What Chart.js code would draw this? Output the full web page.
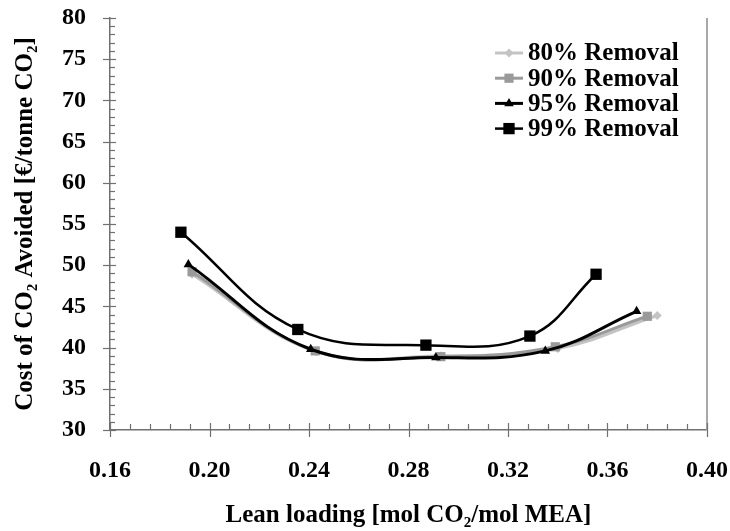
<!DOCTYPE html>
<html>
<head>
<meta charset="utf-8">
<script src="https://cdn.jsdelivr.net/npm/chart.js@4.4.1/dist/chart.umd.min.js"></script>
<style>
  html, body { margin: 0; padding: 0; background: #ffffff; }
  canvas { display: block; }
</style>
</head>
<body>
<canvas id="chart" width="730" height="531"></canvas>
<script>
// ---- data ----
const seriesNames = ['80% Removal', '90% Removal', '95% Removal', '99% Removal'];
const leanLoading80 = [0.193, 0.243, 0.293, 0.340, 0.380];
const cost80        = [48.9, 39.5, 39.0, 39.9, 43.9];
const leanLoading90 = [0.193, 0.2425, 0.293, 0.339, 0.376];
const cost90        = [49.2, 39.6, 38.9, 40.1, 43.8];
const leanLoading95 = [0.1915, 0.2407, 0.291, 0.335, 0.3717];
const cost95        = [50.1, 39.8, 38.8, 39.6, 44.4];
const leanLoading99 = [0.1885, 0.2355, 0.287, 0.3288, 0.3554];
const cost99        = [54.0, 42.2, 40.3, 41.4, 48.9];

const xTickValues = [0.16, 0.20, 0.24, 0.28, 0.32, 0.36, 0.40];
const xTickLabels = ['0.16', '0.20', '0.24', '0.28', '0.32', '0.36', '0.40'];
const yTickValues = [30, 35, 40, 45, 50, 55, 60, 65, 70, 75, 80];
const yTickLabels = ['30', '35', '40', '45', '50', '55', '60', '65', '70', '75', '80'];

const xTitle = 'Lean loading [mol CO\u2082/mol MEA]';
const yTitle = 'Cost of CO\u2082 Avoided [\u20AC/tonne CO\u2082]';

function pairs(xs, ys) { return xs.map((x, i) => ({ x: x, y: ys[i] })); }

const FONT = "'Liberation Serif', 'Times New Roman', serif";
const AXIS_COLOR = '#707070';

const datasets = [
  { label: seriesNames[0], data: pairs(leanLoading80, cost80), borderColor: '#c4c4c4', backgroundColor: '#c4c4c4',
    borderWidth: 3, pointStyle: 'rectRot', pointRadius: 4.5, order: 4 },
  { label: seriesNames[1], data: pairs(leanLoading90, cost90), borderColor: '#9a9a9a', backgroundColor: '#9a9a9a',
    borderWidth: 3, pointStyle: 'rect', pointRadius: 6.5, order: 3 },
  { label: seriesNames[2], data: pairs(leanLoading95, cost95), borderColor: '#000000', backgroundColor: '#000000',
    borderWidth: 3, pointStyle: 'triangle', pointRadius: 5.5, order: 2 },
  { label: seriesNames[3], data: pairs(leanLoading99, cost99), borderColor: '#000000', backgroundColor: '#000000',
    borderWidth: 2.5, pointStyle: 'rect', pointRadius: 8, order: 1 }
];
datasets.forEach(d => { d.showLine = true; d.tension = 0.4; d.pointBorderWidth = 0; d.pointHoverRadius = d.pointRadius; });

// custom tick marks + right border + legend, all positioned through the chart's scales
const decorations = {
  id: 'decorations',
  afterDraw(chart) {
    const ctx = chart.ctx;
    const xs = chart.scales.x, ys = chart.scales.y;
    const area = chart.chartArea;
    ctx.save();
    // right border
    ctx.strokeStyle = '#a8a8a8';
    ctx.lineWidth = 2;
    ctx.beginPath();
    ctx.moveTo(area.right, area.top);
    ctx.lineTo(area.right, area.bottom);
    ctx.stroke();

    ctx.strokeStyle = AXIS_COLOR;
    ctx.lineWidth = 1.2;
    // y ticks
    const yAxisX = area.left;
    for (let v = ys.min; v <= ys.max + 1e-9; v += 1) {
      const py = Math.round(ys.getPixelForValue(v)) + 0.5;
      ctx.beginPath();
      if (Math.abs(v % 5) < 1e-9) {
        ctx.moveTo(yAxisX - 7, py); ctx.lineTo(yAxisX + 6, py);
      } else {
        ctx.moveTo(yAxisX, py); ctx.lineTo(yAxisX + 5, py);
      }
      ctx.stroke();
    }
    // x ticks
    const xAxisY = area.bottom;
    for (let i = 0; i <= 30; i++) {
      const v = xs.min + i * 0.008;
      const px = Math.round(xs.getPixelForValue(v)) + 0.5;
      ctx.beginPath();
      if (i % 5 === 0) {
        ctx.moveTo(px, xAxisY - 7); ctx.lineTo(px, xAxisY + 7);
      } else {
        ctx.moveTo(px, xAxisY - 6); ctx.lineTo(px, xAxisY);
      }
      ctx.stroke();
    }

    // legend
    const lx0 = 495, lx1 = 523, tx = 528, y0 = 53, dy = 25.2;
    ctx.font = 'bold 25px ' + FONT;
    ctx.textBaseline = 'middle';
    ctx.textAlign = 'left';
    chart.data.datasets.forEach((d, i) => {
      const y = y0 + i * dy;
      ctx.strokeStyle = d.borderColor;
      ctx.lineWidth = d.borderWidth;
      ctx.beginPath(); ctx.moveTo(lx0, y); ctx.lineTo(lx1, y); ctx.stroke();
      ctx.fillStyle = d.backgroundColor;
      Chart.helpers.drawPoint(ctx, { pointStyle: d.pointStyle, radius: d.pointRadius, rotation: 0, borderWidth: 0 },
        (lx0 + lx1) / 2, y);
      ctx.fillStyle = '#000000';
      ctx.fillText(d.label, tx, y + 1);
    });
    ctx.restore();
  }
};

new Chart(document.getElementById('chart'), {
  type: 'scatter',
  data: { datasets: datasets },
  plugins: [decorations],
  options: {
    responsive: false,
    animation: false,
    devicePixelRatio: 1,
    layout: { padding: { left: 0, top: 18, right: 23, bottom: 0 } },
    plugins: { legend: { display: false }, tooltip: { enabled: false } },
    scales: {
      x: {
        type: 'linear', min: 0.16, max: 0.40,
        afterBuildTicks: s => { s.ticks = xTickValues.map(v => ({ value: v })); },
        afterFit: s => { s.height = 101; s.paddingLeft = 0; s.paddingRight = 0; },
        grid: { display: false, drawTicks: false },
        border: { display: true, color: AXIS_COLOR, width: 1.5 },
        ticks: {
          padding: 26,
          color: '#000000',
          font: { family: FONT, size: 24, weight: 'bold' },
          callback: (v, i) => xTickLabels[i]
        },
        title: {
          display: true, text: xTitle, color: '#000000',
          font: { family: FONT, size: 25, weight: 'bold' },
          padding: { top: 0, bottom: 0 }
        }
      },
      y: {
        type: 'linear', min: 30, max: 80,
        afterBuildTicks: s => { s.ticks = yTickValues.map(v => ({ value: v })); },
        afterFit: s => { s.width = 110; s.paddingTop = 0; s.paddingBottom = 0; },
        grid: { display: false, drawTicks: false },
        border: { display: true, color: AXIS_COLOR, width: 1.5 },
        ticks: {
          padding: 24,
          color: '#000000',
          font: { family: FONT, size: 24, weight: 'bold' },
          callback: (v, i) => yTickLabels[i]
        },
        title: {
          display: true, text: yTitle, color: '#000000',
          font: { family: FONT, size: 25, weight: 'bold' },
          padding: { top: 11, bottom: 0 }
        }
      }
    }
  }
});
</script>
</body>
</html>
